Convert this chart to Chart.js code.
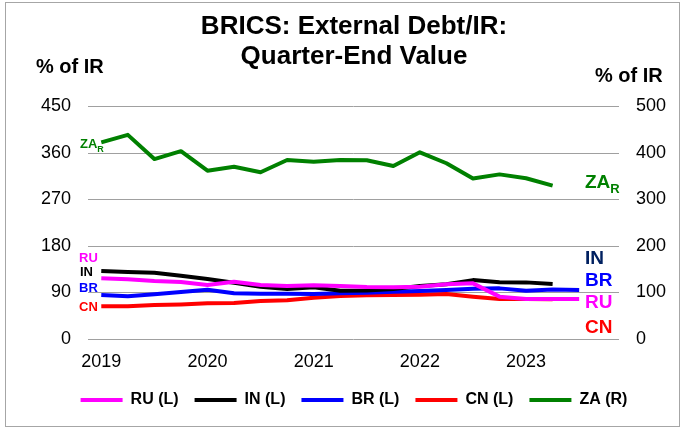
<!DOCTYPE html>
<html>
<head>
<meta charset="utf-8">
<script src="https://cdn.jsdelivr.net/npm/chart.js@4.4.0/dist/chart.umd.min.js"></script>
<style>
    body { margin: 0; background: #fff; }
    #wrap { position: relative; width: 681px; height: 428px; }
</style>
</head>
<body>
<div id="wrap"><canvas id="bricsDebt"></canvas></div>
<script>
// quarter-end observations, 2019Q1 .. 2023Q4
const quarters = [
    '2019Q1', '2019Q2', '2019Q3', '2019Q4',
    '2020Q1', '2020Q2', '2020Q3', '2020Q4',
    '2021Q1', '2021Q2', '2021Q3', '2021Q4',
    '2022Q1', '2022Q2', '2022Q3', '2022Q4',
    '2023Q1', '2023Q2', '2023Q3', '2023Q4'
];

// external debt as % of reserves, left axis
const ruDebt = [117.4, 115.5, 112.2, 110.3, 104.5, 111, 104.5, 102.6, 103.9, 102.6, 100.5, 100, 101, 105.8, 107.7, 82, 77.4, 77.4, 77.4, null];
const inDebt = [131.6, 129.7, 128.4, 122.5, 116, 109, 101, 96.8, 100, 93.5, 94, 96.8, 102.6, 105.8, 114, 110, 109.6, 106.5, null, null];
const brDebt = [85.2, 82.6, 86.5, 91, 95.4, 88.4, 87.7, 87.7, 87, 88.4, 89.6, 91.6, 93, 94.8, 97.4, 98, 93.5, 96, 94.8, null];
const cnDebt = [63.2, 63.2, 65.8, 67, 69, 69.7, 73.5, 74.8, 80, 83.2, 84.5, 85.2, 85.8, 87, 82, 77.4, 77.4, 76.8, null, null];
// South Africa, right axis
const zaDebt = [423, 439, 387, 404, 362, 370.5, 358.5, 385, 381, 385, 384.5, 372, 401.5, 378, 345, 354, 345.6, 330, null, null];

const leftTicks = { min: 0, max: 450, step: 90 };
const rightTicks = { min: 0, max: 500, step: 100 };

Chart.defaults.font.family = "'Liberation Sans', Arial, sans-serif";
Chart.defaults.color = '#000';

// frame, axis units and the small country tags next to the lines
const annotations = {
    id: 'annotations',
    beforeDraw(chart) {
        const ctx = chart.ctx;
        ctx.save();
        ctx.fillStyle = '#fff';
        ctx.fillRect(0, 0, chart.width, chart.height);
        ctx.strokeStyle = '#a6a6a6';
        ctx.lineWidth = 1;
        ctx.strokeRect(5.5, 2.5, 674, 424);
        ctx.restore();
    },
    afterDraw(chart) {
        const ctx = chart.ctx;
        const tag = (text, x, y, size, color, sub) => {
            ctx.font = `bold ${size}px 'Liberation Sans', Arial, sans-serif`;
            ctx.fillStyle = color;
            ctx.fillText(text, x, y);
            if (sub) {
                const w = ctx.measureText(text).width;
                ctx.font = `bold ${Math.round(size * 0.7)}px 'Liberation Sans', Arial, sans-serif`;
                ctx.fillText(sub, x + w, y + size * 0.35);
            }
        };
        ctx.save();
        ctx.textBaseline = 'middle';
        ctx.textAlign = 'left';

        tag('% of IR', 36, 67.5, 20, '#000');
        tag('% of IR', 595, 76.5, 20, '#000');

        // left side tags
        tag('ZA', 80, 144.5, 13, '#008000', 'R');
        tag('RU', 79, 258, 13, '#ff00ff');
        tag('IN', 80, 272.5, 13, '#000');
        tag('BR', 79, 288, 13, '#0000ff');
        tag('CN', 79, 307.5, 13, '#ff0000');

        // right side tags
        tag('ZA', 585, 183, 19, '#008000', 'R');
        tag('IN', 585, 259, 19, '#002060');
        tag('BR', 585, 280.5, 19, '#0000ff');
        tag('RU', 585, 302.5, 19, '#ff00ff');
        tag('CN', 585, 327.5, 19, '#ff0000');
        ctx.restore();
    }
};

const line = (label, data, color, axis) => ({
    label: label,
    data: data,
    yAxisID: axis,
    borderColor: color,
    backgroundColor: color,
    borderWidth: 4,
    pointRadius: 0,
    tension: 0,
    borderJoinStyle: 'round'
});

new Chart(document.getElementById('bricsDebt'), {
    type: 'line',
    data: {
        labels: quarters,
        datasets: [
            line('RU (L)', ruDebt, '#ff00ff', 'y'),
            line('IN (L)', inDebt, '#000000', 'y'),
            line('BR (L)', brDebt, '#0000ff', 'y'),
            line('CN (L)', cnDebt, '#ff0000', 'y'),
            line('ZA (R)', zaDebt, '#008000', 'y1')
        ]
    },
    options: {
        responsive: true,
        maintainAspectRatio: false,
        animation: false,
        layout: {
            padding: { left: 27, right: 0, top: 0, bottom: 10 }
        },
        scales: {
            x: {
                offset: true,
                grid: { display: false, drawTicks: false },
                border: { display: false },
                ticks: {
                    autoSkip: false,
                    maxRotation: 0,
                    minRotation: 0,
                    padding: 12,
                    font: { size: 18 },
                    callback: (value, index) => quarters[index].endsWith('Q1') ? quarters[index].slice(0, 4) : ''
                },
                afterFit: (scale) => { scale.height = 37; }
            },
            y: {
                position: 'left',
                min: leftTicks.min,
                max: leftTicks.max,
                grid: { color: '#a0a0a0', lineWidth: 1, drawTicks: false },
                border: { display: false },
                ticks: { stepSize: leftTicks.step, padding: 17, font: { size: 18 } },
                afterFit: (scale) => { scale.width = 61; }
            },
            y1: {
                position: 'right',
                min: rightTicks.min,
                max: rightTicks.max,
                grid: { display: false, drawTicks: false },
                border: { display: false },
                ticks: { stepSize: rightTicks.step, padding: 17, font: { size: 18 } },
                afterFit: (scale) => { scale.width = 62; }
            }
        },
        plugins: {
            title: {
                display: true,
                text: ['BRICS: External Debt/IR:', 'Quarter-End Value'],
                color: '#000',
                font: { size: 26, weight: 'bold', lineHeight: 1.154 },
                padding: { top: 12, bottom: 34.5 }
            },
            legend: {
                position: 'bottom',
                labels: {
                    usePointStyle: true,
                    pointStyle: 'line',
                    pointStyleWidth: 42,
                    padding: 16,
                    color: '#000',
                    font: { size: 16, weight: 'bold' }
                }
            },
            tooltip: { enabled: false }
        }
    },
    plugins: [annotations]
});
</script>
</body>
</html>
